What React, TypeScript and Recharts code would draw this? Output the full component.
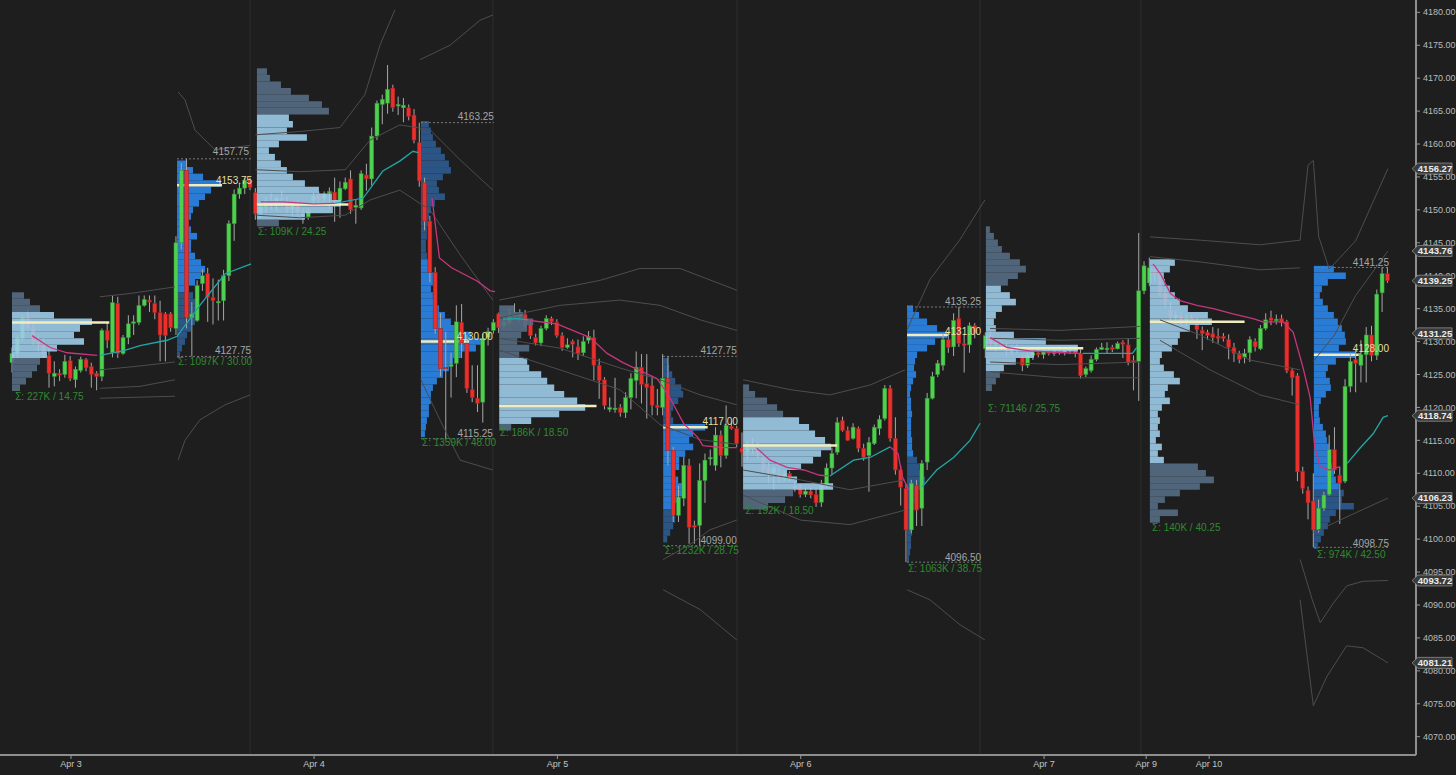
import React from 'react';
import { ComposedChart, Bar, Line, XAxis, YAxis, ReferenceArea, ReferenceLine, Scatter } from 'recharts';

// ---------- candles: [index, open, high, low, close] ----------
const apr3Candles: number[][] = [
  [0, 4126.8, 4129.1, 4125.3, 4128.2], [1, 4128.2, 4131, 4127.5, 4130.5], [2, 4130.5, 4134, 4130, 4133.5],
  [3, 4133.5, 4135, 4131.5, 4132], [4, 4132, 4133, 4129.5, 4130], [5, 4130, 4131, 4128.5, 4129.5],
  [6, 4129.5, 4130.5, 4127.5, 4128], [7, 4127.9, 4129.4, 4123, 4125.2], [8, 4124.7, 4127, 4123.2, 4125.2],
  [9, 4125.2, 4125.8, 4124, 4124.9], [10, 4125, 4128, 4124.5, 4127], [11, 4127.1, 4127.8, 4124, 4124.4],
  [12, 4124.2, 4126.2, 4123, 4125.8], [13, 4125.6, 4127.7, 4125.3, 4127.3], [14, 4127.3, 4127.5, 4125.5, 4126],
  [15, 4126.2, 4126.8, 4123, 4125], [16, 4125.2, 4125.5, 4122.6, 4124.7], [17, 4124.7, 4132, 4124, 4131.7],
  [18, 4131.7, 4133, 4129, 4130.2], [19, 4128.3, 4137, 4127.6, 4135.9], [20, 4135.8, 4136.8, 4127.5, 4128.2],
  [21, 4128.2, 4131, 4128, 4130.6], [22, 4130.6, 4134, 4129.6, 4132.7], [23, 4132.8, 4134, 4131, 4133],
  [24, 4132.9, 4137, 4132.5, 4135.5], [25, 4135.5, 4137, 4135.3, 4136.4], [26, 4136.3, 4137, 4134.5, 4136],
  [27, 4135.8, 4137, 4133.4, 4134.4], [28, 4134.4, 4136.2, 4127, 4131], [29, 4134.2, 4134.5, 4127, 4130.9],
  [30, 4134.2, 4134.5, 4131.5, 4132.1],
  [31, 4132, 4146, 4131, 4145], [32, 4145, 4157.1, 4144, 4156], [33, 4156, 4157.75, 4132, 4133.6],
  [34, 4133.6, 4136, 4127.75, 4134.2], [35, 4133.2, 4139.3, 4133, 4138.5], [36, 4138.8, 4141, 4137.7, 4140],
  [37, 4140.3, 4141.2, 4133, 4136.7], [38, 4136.7, 4139.6, 4132.6, 4136.2], [39, 4136, 4139.4, 4133.2, 4136.1],
  [40, 4136.2, 4140.9, 4133.2, 4140], [41, 4140, 4148.4, 4139.2, 4147.9], [42, 4147.9, 4153.1, 4145.3, 4152.4],
  [43, 4152.4, 4154.1, 4151.7, 4153.3], [44, 4153.3, 4154.9, 4152.4, 4154.5], [45, 4154.5, 4154.9, 4153, 4153.4],
];
const apr4Candles: number[][] = [
  [46, 4152.6, 4153.3, 4148.5, 4149.4], [47, 4149.4, 4151, 4148.8, 4150.5], [48, 4150.5, 4152, 4149.5, 4151.5],
  [49, 4151.5, 4152.5, 4150, 4150.6], [50, 4150.6, 4152, 4149.8, 4151.8], [51, 4151.8, 4153, 4150.5, 4151],
  [52, 4151, 4152, 4149.5, 4150], [53, 4150, 4151.2, 4148.8, 4150.8], [54, 4150.8, 4151.5, 4149.2, 4149.6],
  [55, 4149.6, 4150.2, 4147.9, 4149], [56, 4148.9, 4150.3, 4148.5, 4149.8], [57, 4151.4, 4152.6, 4150.9, 4152.1],
  [58, 4152.4, 4152.8, 4151, 4151.5], [59, 4151.7, 4152.8, 4151.3, 4152.4], [60, 4152.7, 4153.4, 4150.4, 4152.8],
  [61, 4152.7, 4154.9, 4148.2, 4151.4], [62, 4151.4, 4154.3, 4148.8, 4153.3], [63, 4153.2, 4154.9, 4153, 4154.2],
  [64, 4154.7, 4156, 4149.4, 4150], [65, 4150.4, 4151.6, 4147.9, 4150.7], [66, 4150.3, 4156, 4150, 4155.5],
  [67, 4155.3, 4157, 4152.9, 4154.7], [68, 4154.7, 4162.5, 4153.7, 4161.2], [69, 4161.2, 4166.6, 4160.6, 4166.2],
  [70, 4166, 4167.5, 4163, 4166.8], [71, 4166.2, 4172, 4164.6, 4168.3], [72, 4168.5, 4169, 4164.9, 4165.5],
  [73, 4165.8, 4167.2, 4164.4, 4166], [74, 4165.5, 4167, 4163.3, 4165.9], [75, 4165.5, 4166, 4163.6, 4164.2],
  [76, 4164.4, 4165.3, 4160.1, 4160.6],
  [77, 4160.2, 4163.25, 4153.5, 4154.4], [78, 4154.1, 4154.9, 4146.9, 4148.3], [79, 4148.3, 4149.1, 4139, 4140.5],
  [80, 4140.5, 4141.3, 4131.2, 4132], [81, 4132, 4134.3, 4124.7, 4125.9], [82, 4126.1, 4131.5, 4115.25, 4126],
  [83, 4126.2, 4128.3, 4121.5, 4126.5], [84, 4126.7, 4135.5, 4124.6, 4133], [85, 4132.9, 4135.7, 4127.5, 4129.8],
  [86, 4129.7, 4131, 4122.2, 4122.9], [87, 4122.7, 4126.4, 4120.8, 4121.5], [88, 4121.4, 4126.4, 4119.3, 4120.6],
  [89, 4120.8, 4131.2, 4117.7, 4130.5], [90, 4130.6, 4132.1, 4129.4, 4131.5], [91, 4131.7, 4133.4, 4131.2, 4132.9],
];
const apr5Candles: number[][] = [
  [92, 4134.2, 4134.4, 4131.3, 4132.1], [93, 4132.4, 4133.8, 4131.8, 4133], [94, 4132.9, 4135, 4132.5, 4134],
  [95, 4134, 4135.8, 4133.6, 4134.1], [96, 4133.8, 4134.9, 4133, 4134.3], [97, 4134.1, 4134.8, 4132, 4132.4],
  [98, 4132.6, 4133.2, 4130.4, 4130.9], [99, 4130.6, 4131.2, 4129.4, 4129.8], [100, 4129.8, 4132.4, 4129.3, 4132],
  [101, 4132, 4134, 4131.7, 4133.5], [102, 4133.5, 4133.8, 4132.5, 4133], [103, 4132.9, 4133.4, 4130.6, 4130.9],
  [104, 4130.9, 4131.4, 4128.6, 4129.1], [105, 4129.1, 4130.5, 4128.9, 4129.5], [106, 4130, 4130.3, 4127.6, 4129.6],
  [107, 4129.2, 4130.3, 4127.2, 4128.2], [108, 4128.3, 4130.8, 4127.8, 4130], [109, 4130.2, 4131.6, 4129.7, 4130.8],
  [110, 4130.6, 4131.8, 4124.1, 4126.4], [111, 4126.4, 4127.4, 4121.3, 4124.1], [112, 4124.2, 4124.6, 4119.7, 4120.3],
  [113, 4119.7, 4121.5, 4119.3, 4120], [114, 4119.8, 4124.5, 4119.2, 4119.9], [115, 4120, 4120.5, 4118.6, 4119.2],
  [116, 4119.2, 4122.3, 4118.4, 4121.5], [117, 4121.5, 4125.2, 4119.7, 4124.4], [118, 4124.1, 4128.5, 4121.4, 4126.1],
  [119, 4126.1, 4128.1, 4120.6, 4123.5], [120, 4123.6, 4128.1, 4118.3, 4123], [121, 4123.3, 4124.8, 4118.8, 4120.3],
  [122, 4120.3, 4122.8, 4118.8, 4120], [123, 4120, 4128.1, 4118.8, 4124.4],
  [124, 4124.4, 4127.75, 4111.2, 4113.5], [125, 4113.5, 4114, 4102.6, 4103.6], [126, 4103.6, 4108.1, 4102.6, 4106.4],
  [127, 4106.2, 4112.5, 4105, 4111.2], [128, 4111.2, 4112.2, 4099.3, 4101.8], [129, 4102.1, 4102.8, 4099.3, 4101.8],
  [130, 4102.1, 4111.5, 4099, 4108.9], [131, 4108.9, 4113, 4105.5, 4112], [132, 4112.2, 4113.6, 4111.2, 4112.4],
  [133, 4111.2, 4117, 4110.4, 4115.8], [134, 4115.8, 4116.5, 4110.9, 4112.7], [135, 4112.7, 4120.3, 4112.2, 4117.3],
  [136, 4117.1, 4117.8, 4116.6, 4116.8], [137, 4116.8, 4117.2, 4114, 4114.5],
];
const apr6Candles: number[][] = [
  [138, 4113.8, 4116.2, 4111, 4113.2], [139, 4113.2, 4115, 4112, 4114.5], [140, 4114.5, 4115.3, 4113, 4113.8],
  [141, 4113.8, 4114.8, 4112.2, 4113], [142, 4112.4, 4113, 4110, 4110.5], [143, 4110.8, 4111.6, 4108.5, 4110],
  [144, 4110, 4111.2, 4107.5, 4110.8], [145, 4110, 4110.8, 4108.6, 4109.2], [146, 4109.2, 4110.4, 4108.8, 4110],
  [147, 4110, 4110.3, 4108.8, 4109.2], [148, 4108.2, 4108.8, 4107.2, 4107.7], [149, 4107.7, 4108.3, 4106.3, 4106.8],
  [150, 4106.8, 4107.8, 4106.4, 4107.3], [151, 4107.3, 4107.8, 4106.2, 4106.7], [152, 4106.8, 4107.7, 4104.9, 4105.5],
  [153, 4105.6, 4109, 4104.9, 4108.2], [154, 4108.2, 4111.5, 4107.7, 4110.8], [155, 4110.8, 4113.9, 4109.8, 4113],
  [156, 4113.2, 4118.5, 4112.8, 4117.7], [157, 4118, 4118.6, 4116.3, 4116.5], [158, 4116.5, 4117.1, 4114.9, 4115],
  [159, 4115.3, 4117.6, 4115.1, 4117], [160, 4116.8, 4117.1, 4113.2, 4113.8], [161, 4113.8, 4114.5, 4111.9, 4112.4],
  [162, 4112.7, 4115.5, 4107.2, 4114.7], [163, 4114.5, 4117.4, 4114.3, 4117], [164, 4116.8, 4118.8, 4115.8, 4118.2],
  [165, 4118.3, 4123.4, 4118, 4122.9], [166, 4122.9, 4123.4, 4114.8, 4115.3], [167, 4115.3, 4118.5, 4109.8, 4110.5],
  [168, 4110.5, 4111.2, 4105.1, 4107.9],
  [169, 4107.7, 4108.4, 4096.5, 4101.4], [170, 4101.4, 4109, 4100.9, 4108.5], [171, 4108.2, 4109, 4102, 4104.4],
  [172, 4104.7, 4112, 4102, 4111.5], [173, 4111.7, 4122.2, 4110.5, 4121.4], [174, 4121.4, 4125.4, 4121.2, 4124.7],
  [175, 4125, 4127.2, 4124.6, 4126.7], [176, 4126.4, 4131.2, 4125.6, 4130.3], [177, 4130.3, 4131.4, 4128.3, 4129.1],
  [178, 4129.2, 4134.3, 4127.8, 4133.2], [179, 4133.5, 4135.25, 4129.2, 4129.7], [180, 4129.7, 4131.2, 4125.3, 4129.4],
  [181, 4129.5, 4132.9, 4128.3, 4132.4], [182, 4132.4, 4132.8, 4130.5, 4131.2],
];
const apr7Candles: number[][] = [
  [184, 4128.9, 4131.4, 4127.5, 4130.9], [185, 4130.9, 4131.5, 4129, 4129.5], [186, 4129.5, 4130.2, 4128.5, 4129.8],
  [187, 4129.8, 4130.3, 4128.8, 4129], [188, 4129, 4129.8, 4127.9, 4128.5], [189, 4128.5, 4129.5, 4128, 4129.2],
  [190, 4129.2, 4129.6, 4128.2, 4128.6], [191, 4127.6, 4128, 4125.5, 4126.4], [192, 4126.4, 4128.3, 4126, 4127.9],
  [193, 4127.9, 4128.6, 4127.2, 4128.3], [194, 4128.3, 4129, 4127.6, 4128], [195, 4128, 4128.9, 4127.4, 4128.6],
  [196, 4128.6, 4129.2, 4127.9, 4128.2], [197, 4128.2, 4129, 4127.8, 4128.7], [198, 4128.7, 4129.3, 4128, 4128.4],
  [199, 4128.4, 4129.2, 4127.9, 4128.6], [200, 4128.6, 4129.4, 4128.1, 4128.9], [201, 4128.9, 4129.4, 4127.6, 4128.2],
  [202, 4128.2, 4128.8, 4124.4, 4124.8], [203, 4125, 4126.2, 4124.6, 4125.9], [204, 4125.6, 4127.9, 4125.3, 4127.3],
  [205, 4127.3, 4129.1, 4127, 4128.8], [206, 4128.8, 4129.8, 4128.7, 4129.1], [207, 4128.9, 4129.9, 4128.2, 4129],
  [208, 4129.1, 4129.5, 4128.4, 4128.8], [209, 4128.9, 4130, 4128.8, 4129.7], [210, 4129.9, 4130.2, 4127.5, 4129.6],
  [211, 4129.5, 4130.4, 4126.4, 4126.8], [212, 4127.1, 4127.9, 4122.6, 4126.9], [213, 4127, 4146.5, 4121, 4137.7],
];
const apr9Candles: number[][] = [
  [214, 4137.7, 4142.2, 4137.2, 4141.5], [215, 4138.9, 4142.75, 4138.4, 4141.2], [216, 4141, 4141.7, 4139, 4140.2],
  [217, 4140.5, 4141, 4136.8, 4137.4], [218, 4137.4, 4137.8, 4135.2, 4136], [219, 4134.7, 4136, 4133, 4133.6],
  [220, 4133.6, 4134.6, 4132.5, 4134], [221, 4134, 4134.5, 4132.3, 4133], [222, 4133, 4134.2, 4132.4, 4133.5],
  [223, 4133.6, 4134.1, 4132.8, 4133.3], [224, 4133.3, 4133.6, 4130.4, 4131.8], [225, 4131.7, 4132.3, 4128.7, 4131.2],
  [226, 4131.4, 4131.8, 4130.3, 4130.9], [227, 4131.2, 4132.2, 4129.8, 4130.6], [228, 4130.8, 4132, 4129.7, 4130.5],
  [229, 4130.8, 4131.3, 4130, 4130.5], [230, 4130.3, 4131.1, 4127.3, 4129.1], [231, 4129.1, 4129.8, 4126.9, 4128.2],
  [232, 4128.2, 4128.6, 4126.7, 4127.3], [233, 4127.6, 4128.9, 4126.7, 4128.2], [234, 4128.3, 4130.8, 4126.9, 4130.3],
  [235, 4130, 4130.5, 4128.5, 4129.2], [236, 4128.9, 4132.5, 4128.7, 4132], [237, 4132, 4134.3, 4131.7, 4133.3],
  [238, 4133.6, 4134.7, 4132.5, 4133.2], [239, 4133.2, 4134.1, 4132.6, 4133.4], [240, 4133.5, 4134.1, 4132.3, 4132.9],
  [241, 4133, 4133.3, 4125.2, 4125.6], [242, 4125.6, 4126, 4121.8, 4124.5], [243, 4124.8, 4125.2, 4108.8, 4110.2],
  [244, 4110.3, 4111, 4106.9, 4107.7], [245, 4107.4, 4108, 4103, 4105.5],
  [246, 4105.8, 4110, 4098.75, 4101.4], [247, 4101.4, 4106, 4101, 4104.7], [248, 4104.7, 4107.2, 4104.3, 4106.7],
  [249, 4106.8, 4115.8, 4106.6, 4113.6], [250, 4113.6, 4117, 4109.9, 4110.5], [251, 4109.7, 4111, 4102.3, 4108.5],
  [252, 4108.8, 4124.3, 4108.5, 4123.2], [253, 4123.2, 4128.2, 4122.3, 4127], [254, 4127.3, 4128.8, 4122.3, 4126.7],
  [255, 4126.4, 4130.2, 4123.8, 4128], [256, 4128, 4132.2, 4123.8, 4131], [257, 4131, 4132.4, 4127, 4127.9],
  [258, 4127.9, 4137.9, 4127.2, 4137.2], [259, 4137.4, 4141.25, 4134.5, 4140.3], [260, 4140.3, 4141.25, 4138.9, 4139.25],
];

// ---------- volume profiles (volume per 1-point row, from top price downward) ----------
const apr3OnProfile = { start: 0, top: 4137, vaHi: 4134, vaLo: 4128, kind: 'on',
  vol: [12, 18, 28, 42, 80, 68, 62, 72, 45, 35, 28, 25, 20, 14, 8] };
const apr3RthProfile = { start: 31.2, top: 4157, vaHi: 4157, vaLo: 4138, kind: 'rth',
  vol: [10, 16, 26, 44, 34, 28, 22, 16, 14, 12, 14, 20, 14, 14, 18, 24, 28, 24, 18, 12, 16, 20, 22, 20, 18, 14, 10, 8, 5, 3] };
const apr4OnProfile = { start: 46.3, top: 4171, vaHi: 4164, vaLo: 4149, kind: 'on',
  vol: [10, 13, 24, 34, 52, 65, 72, 32, 36, 30, 50, 22, 12, 18, 24, 30, 36, 48, 62, 75, 84, 76, 48, 22] };
const apr4RthProfile = { start: 77.3, top: 4163, vaHi: 4142, vaLo: 4116, kind: 'rth',
  vol: [8, 10, 12, 15, 20, 24, 28, 30, 22, 16, 18, 24, 14, 10, 8, 7, 6, 6, 5, 5, 6,
    8, 10, 12, 12, 10, 12, 15, 18, 24, 30, 36, 50, 62, 55, 40, 32, 28, 22, 16, 12, 10, 10, 8, 8, 6, 5, 4] };
const apr5OnProfile = { start: 92.1, top: 4135, vaHi: 4127, vaLo: 4118, kind: 'on',
  vol: [15, 24, 34, 28, 22, 18, 30, 20, 28, 30, 42, 48, 55, 65, 78, 86, 60, 32, 12] };
const apr5RthProfile = { start: 123.1, top: 4127, vaHi: 4117, vaLo: 4105, kind: 'rth',
  vol: [5, 6, 9, 12, 18, 20, 15, 10, 8, 10, 42, 30, 26, 30, 22, 16, 16, 12, 15, 20, 20, 14, 12, 10, 12, 10, 7, 4] };
const apr6OnProfile = { start: 138.2, top: 4123, vaHi: 4118, vaLo: 4108, kind: 'on',
  vol: [6, 12, 24, 34, 40, 56, 66, 72, 82, 88, 78, 70, 58, 44, 54, 90, 50, 42, 25] };
const apr6RthProfile = { start: 169.2, top: 4135, vaHi: 4135, vaLo: 4113, kind: 'rth',
  vol: [6, 12, 20, 30, 40, 28, 20, 10, 8, 7, 9, 6, 4, 3, 4, 4, 5, 4, 4, 4, 5, 5, 6,
    10, 12, 14, 18, 15, 10, 8, 7, 6, 6, 5, 5, 4, 4, 3, 2] };
const apr7OnProfile = { start: 184.1, top: 4147, vaHi: 4138, vaLo: 4126, kind: 'on',
  vol: [4, 8, 12, 16, 24, 34, 40, 32, 22, 15, 24, 30, 16, 10, 8, 10, 28, 60, 92, 48, 30, 18, 14, 10, 6] };
const apr9OnProfile = { start: 215.1, top: 4142, vaHi: 4142, vaLo: 4112, kind: 'on',
  vol: [25, 20, 14, 15, 20, 25, 30, 38, 58, 62, 40, 30, 28, 22, 12, 10, 14, 24, 30, 18, 15, 20, 12, 8, 10, 8, 10, 6, 12, 8, 14,
    48, 56, 64, 50, 30, 15, 8, 28, 10] };
const apr9RthProfile = { start: 246.1, top: 4141, vaHi: 4141, vaLo: 4108, kind: 'rth',
  vol: [20, 32, 14, 8, 6, 9, 14, 20, 24, 28, 31, 32, 25, 42, 22, 14, 12, 16, 17, 12, 7, 5, 5, 6, 9, 12, 13, 15, 16, 17, 18, 20, 22, 25,
    30, 28, 40, 22, 16, 14, 10, 7, 4] };

const onProfiles = [apr3OnProfile, apr4OnProfile, apr5OnProfile, apr6OnProfile, apr7OnProfile, apr9OnProfile];
const rthProfiles = [apr3RthProfile, apr4RthProfile, apr5RthProfile, apr6RthProfile, apr9RthProfile];

// POC lines: [startIdx, endIdx, price]
const onPocLines: number[][] = [
  [0, 18.4, 4132.9], [46.3, 63.6, 4150.8], [92.1, 110.5, 4120.2], [138.2, 156, 4114.2], [184.1, 202.5, 4129], [215.1, 233, 4133],
];
const rthPocLines: number[][] = [
  [31.2, 39.7, 4153.75], [77.3, 86.4, 4130], [123.1, 131.5, 4117], [169.2, 177, 4131], [246.1, 255, 4128],
];
// RTH high / low boxes: [startIdx, endIdx, high, low]
const rthBoxes: number[][] = [
  [31.2, 45.2, 4157.75, 4127.75], [77.3, 91.1, 4163.25, 4115.25], [123.1, 137, 4127.75, 4099],
  [169.2, 183.2, 4135.25, 4096.5], [246.1, 260.3, 4141.25, 4098.75],
];

// ---------- VWAP style lines: [index, price] ----------
const pinkSegments: number[][][] = [
  [[3.8, 4130.9], [7.2, 4129.1], [10.4, 4128.3], [16.1, 4127.9]],
  [[47, 4151.2], [51.2, 4151.2], [56.9, 4150.9], [61, 4151]],
  [[79.4, 4151.8], [80.8, 4142.7], [83.1, 4141.2], [87.9, 4139.2], [90.4, 4137.7], [91.3, 4137.6]],
  [[97.9, 4133.2], [103, 4132.7], [109.3, 4130.6], [112.5, 4128.2], [115.5, 4126.8], [118.7, 4125.6], [121.9, 4124.4],
    [124, 4122], [127, 4117.5], [129.6, 4115.5], [130.6, 4114.2], [134.4, 4113.9], [137, 4113.9]],
  [[140.8, 4113.8], [143.3, 4112], [146.5, 4110.9], [149.7, 4110.5], [152.7, 4109.7], [154.3, 4109.6]],
  [[166, 4114], [167.5, 4113], [168.3, 4109.5], [169.5, 4107.5]],
  [[184.9, 4130.6], [188.1, 4129.1], [192.4, 4128.6], [198.7, 4128.3], [201.9, 4128.2]],
  [[215.7, 4141.8], [217.1, 4140.3], [219, 4137.3], [220.8, 4136.2], [224, 4135.5], [227.1, 4135], [230.8, 4134.2],
    [234.6, 4133.5], [236.5, 4133], [240.3, 4133], [242.2, 4131.4], [244.1, 4125.9], [245.4, 4121.5], [246.3, 4113.8],
    [247.3, 4111], [249.1, 4110.5], [251, 4111]],
];
const tealSegments: number[][][] = [
  [[16.6, 4127.9], [21, 4128.6], [24.2, 4129.4], [29.3, 4130.2], [31.2, 4130.8], [35.5, 4135.5], [40.3, 4140.3], [45.2, 4141.8]],
  [[61, 4151], [66.4, 4151.8], [70.1, 4155.9], [73.3, 4157.4], [75.8, 4158.9], [76.8, 4158.7]],
  [[92.8, 4133.4], [95.6, 4133.5], [97.6, 4133.3]],
  [[154.6, 4109.6], [159.1, 4112], [162.2, 4112.4], [166, 4114]],
  [[172, 4107.9], [174.8, 4110.5], [178, 4112.4], [181.1, 4115], [183, 4117.6]],
  [[202.4, 4128.2], [211.8, 4128.2], [212.6, 4129.1]],
  [[252.4, 4111.5], [254.8, 4113.8], [257.3, 4116], [259.2, 4118.5], [260.1, 4118.74]],
];
// ---------- deviation bands (grey) ----------
const bandSegments: number[][][] = [
  [[16.6, 4136.8], [22.3, 4137.3], [30.8, 4138.3]],
  [[16.6, 4125.7], [24.2, 4126.3], [30.8, 4126.9]],
  [[16.6, 4122.9], [24.2, 4123.2], [30.8, 4124.2]],
  [[16.6, 4121.4], [30.8, 4121.7]],
  [[31.4, 4167.9], [32.7, 4166.7], [34.6, 4162.1], [38.4, 4159.1], [45, 4159.8]],
  [[31.4, 4112], [32.7, 4115], [35.5, 4118.1], [40.3, 4120.4], [45, 4121.9]],
  [[46, 4161.4], [54.4, 4161.9], [62, 4162.5], [66.7, 4167.5], [69.6, 4175.1], [72.4, 4180.4]],
  [[46, 4156.1], [54.4, 4155.8], [63, 4156.1], [67.7, 4160.6], [73.3, 4162.9], [79, 4162.2], [84.7, 4157.6], [90.9, 4153]],
  [[46, 4149.2], [54.4, 4148.8], [63, 4149.2], [67.7, 4151.5], [73.3, 4153], [79, 4150], [84.7, 4143.2], [90.9, 4136.3]],
  [[77.1, 4172.8], [82.8, 4175], [88.5, 4178.8], [90.9, 4179.6]],
  [[77.3, 4124.2], [80.9, 4118.1], [84.7, 4112], [90.9, 4110.5]],
  [[92.1, 4136.3], [99.8, 4137.5], [111.2, 4139.3], [118.7, 4141.1], [126.3, 4141.1], [137, 4137.8]],
  [[92.1, 4133.6], [103.6, 4135.5], [114.9, 4136.3], [122.5, 4135.5], [130.1, 4133.3], [137, 4131.7]],
  [[92.1, 4130.5], [103.6, 4129], [114.9, 4126], [122.5, 4124.2], [130.1, 4121.9], [137, 4120.4]],
  [[92.1, 4128.7], [103.6, 4125.7], [114.9, 4122.7], [122.5, 4117.4], [130.1, 4115.1], [137, 4114.4]],
  [[123.1, 4096.9], [128.2, 4099.2], [131.9, 4101.4], [137, 4102.9]],
  [[123.1, 4092.3], [130.1, 4089.3], [137, 4084.7]],
  [[138.2, 4124.2], [147.1, 4122.7], [154.6, 4121.9], [162.2, 4123.4], [168.8, 4125.7]],
  [[138.2, 4110.5], [149, 4109], [158.4, 4107.5], [168.8, 4109]],
  [[138.2, 4106.7], [149, 4102.9], [158.4, 4102.2], [168.8, 4104.4]],
  [[169.2, 4131.8], [173.5, 4139.4], [179.2, 4145.5], [183.9, 4151.5]],
  [[169.2, 4092.3], [173.5, 4090.8], [179.2, 4087], [183.9, 4084.7]],
  [[184.9, 4132], [198.1, 4131.7], [213.2, 4132.3]],
  [[184.9, 4130.5], [198.1, 4130.2], [213.2, 4130.5]],
  [[184.9, 4126.9], [198.1, 4126.5], [213.2, 4126.9]],
  [[184.9, 4125.4], [198.1, 4124.5], [213.2, 4124.5]],
  [[215.1, 4145.9], [224.6, 4145.4], [235.9, 4144.7], [243.5, 4145.4]],
  [[215.1, 4142.9], [224.6, 4142.1], [235.9, 4140.9], [243.5, 4141.2]],
  [[217, 4133.3], [224.6, 4131], [234, 4127.2], [243.5, 4125.7]],
  [[217, 4130.2], [226.5, 4125.7], [235.9, 4121.9], [243.5, 4120.4]],
  [[243.5, 4145.4], [245, 4156.8], [246, 4157.5], [247, 4146], [249, 4141], [254, 4145.3], [260.1, 4156.27]],
  [[246, 4127], [250, 4131], [254, 4137], [260.1, 4143.76]],
  [[246, 4101], [250, 4102.5], [254, 4104], [260.1, 4106.23]],
  [[243.5, 4096.9], [245.8, 4090.8], [247.3, 4087.3], [249.7, 4090.2], [252.3, 4092.9], [255.4, 4093.6], [260.1, 4093.72]],
  [[243.5, 4090.8], [246, 4074.7], [248.6, 4079.2], [252.3, 4083.8], [255.4, 4083.5], [260.1, 4081.21]],
];

// ---------- axes / annotations ----------
const yTicks = [4070, 4075, 4080, 4085, 4090, 4095, 4100, 4105, 4110, 4115, 4120, 4125, 4130, 4135, 4140, 4145, 4150, 4155, 4160, 4165, 4170, 4175, 4180];
const badgeValues = [4156.27, 4143.76, 4139.25, 4131.25, 4118.74, 4106.23, 4093.72, 4081.21];
const xTickPos = [11.15, 57.1, 103.1, 149.1, 195.1, 214.4, 226.3];
const xTickLabels = ['Apr 3', 'Apr 4', 'Apr 5', 'Apr 6', 'Apr 7', 'Apr 9', 'Apr 10'];
const sessionSeparators = [45, 90.9, 137.05, 183, 213.4];

const sumLabels = [
  { x: 0.6, y: 4121.7, t: 'Σ: 227K / 14.75' }, { x: 31.4, y: 4126.9, t: 'Σ: 1097K / 30.00' },
  { x: 46.5, y: 4146.7, t: 'Σ: 109K / 24.25' }, { x: 77.5, y: 4114.6, t: 'Σ: 1359K / 48.00' },
  { x: 92.2, y: 4116.2, t: 'Σ: 186K / 18.50' }, { x: 123.4, y: 4098.2, t: 'Σ: 1232K / 28.75' },
  { x: 138.6, y: 4104.4, t: 'Σ: 192K / 18.50' }, { x: 169.4, y: 4095.6, t: 'Σ: 1063K / 38.75' },
  { x: 184.5, y: 4119.9, t: 'Σ: 71146 / 25.75' }, { x: 215.5, y: 4101.7, t: 'Σ: 140K / 40.25' },
  { x: 246.7, y: 4097.6, t: 'Σ: 974K / 42.50' },
];
const priceLabels = [
  { x: 44.8, y: 4158.8, t: '4157.75', poc: 0 }, { x: 45.2, y: 4128.7, t: '4127.75', poc: 0 }, { x: 45.4, y: 4154.5, t: '4153.75', poc: 1 },
  { x: 91.1, y: 4164.2, t: '4163.25', poc: 0 }, { x: 90.9, y: 4116, t: '4115.25', poc: 0 }, { x: 90.9, y: 4130.8, t: '4130.00', poc: 1 },
  { x: 137, y: 4128.7, t: '4127.75', poc: 0 }, { x: 137.2, y: 4117.8, t: '4117.00', poc: 1 }, { x: 137, y: 4099.8, t: '4099.00', poc: 0 },
  { x: 183.2, y: 4136.1, t: '4135.25', poc: 0 }, { x: 183.2, y: 4131.6, t: '4131.00', poc: 1 }, { x: 183.2, y: 4097.2, t: '4096.50', poc: 0 },
  { x: 260.3, y: 4142, t: '4141.25', poc: 0 }, { x: 260.3, y: 4129, t: '4128.00', poc: 1 }, { x: 260.3, y: 4099.4, t: '4098.75', poc: 0 },
];

const X_DOMAIN: [number, number] = [-2.268, 265.406];
const Y_DOMAIN: [number, number] = [4067.22, 4181.87];
const PX_PER_BAR = 5.29;
const FONT = '"Liberation Sans Narrow", "Liberation Sans", Arial, sans-serif';

const candleData = [...apr3Candles, ...apr4Candles, ...apr5Candles, ...apr6Candles, ...apr7Candles, ...apr9Candles]
  .map(([x, o, h, l, c]) => ({ x, o, h, l, c, range: [l, h] }));

const CandleShape = (props: any) => {
  const { x, y, width, height, payload } = props;
  if (payload == null || x == null) return null;
  const { o, h, l, c } = payload;
  const top = Math.min(y, y + height);
  const hh = Math.abs(height);
  const cx = x + width / 2;
  const span = h - l || 1;
  const py = (v: number) => top + ((h - v) / span) * hh;
  const up = c >= o;
  const bTop = py(Math.max(o, c));
  const bBot = py(Math.min(o, c));
  return (
    <g>
      <line x1={cx} x2={cx} y1={top} y2={top + hh} stroke="#a8a8a8" strokeWidth={1} />
      <rect x={cx - 2} y={bTop} width={4} height={Math.max(1.5, bBot - bTop)}
        fill={up ? '#4fd04f' : '#e8302c'} stroke={up ? '#2f8f2f' : '#a01c1c'} strokeWidth={0.5} />
    </g>
  );
};

const TextShape = (props: any) => {
  const { cx, cy, payload } = props;
  if (cx == null) return null;
  return (
    <text x={cx} y={cy} dy="0.35em" fontSize={10} fontFamily={FONT}
      fill={payload.color} textAnchor={payload.anchor}>{payload.t}</text>
  );
};

// y-axis tick: regular price label, or a value badge for the last values of the study lines
const PriceTick = (props: any) => {
  const { x, y, payload } = props;
  if (x == null || payload == null) return null;
  const v = Number(payload.value);
  const axisX = x - 7;
  if (badgeValues.includes(v)) {
    const x0 = axisX - 4;
    return (
      <g>
        <polygon points={`${x0},${y} ${x0 + 6},${y - 5.5} ${x0 + 40},${y - 5.5} ${x0 + 40},${y + 5.5} ${x0 + 6},${y + 5.5}`}
          fill="#3a3a3a" stroke="#8c8c8c" strokeWidth={0.8} />
        <text x={x0 + 23} y={y} dy="0.35em" fontSize={9.5} fontWeight="bold" fontFamily={FONT} fill="#ececec" textAnchor="middle">
          {v.toFixed(2)}
        </text>
      </g>
    );
  }
  return (
    <g>
      <line x1={axisX} x2={axisX + 4} y1={y} y2={y} stroke="#9a9a9a" strokeWidth={1} />
      <text x={x} y={y} dy="0.35em" fontSize={9} fontFamily={FONT} fill="#bcbcbc" textAnchor="start">{v.toFixed(2)}</text>
    </g>
  );
};

function profileAreas(p: any, key: string, z: number) {
  const isOn = p.kind === 'on';
  const va = isOn ? '#9dcbe9' : '#2a7bd4';
  const out = isOn ? '#566d84' : '#2b5584';
  return p.vol.map((v: number, i: number) => {
    const price = p.top - i;
    const inVa = price <= p.vaHi && price >= p.vaLo;
    return (
      <ReferenceArea key={`${key}-${i}`} x1={p.start} x2={p.start + v / PX_PER_BAR} y1={price - 0.5} y2={price + 0.5}
        fill={inVa ? va : out} fillOpacity={isOn ? 0.9 : 1} stroke="none" ifOverflow="visible" zIndex={z} />
    );
  });
}

const seg = (pts: number[][]) => pts.map(([x, v]) => ({ x, v }));

export default function App() {
  const sumData = sumLabels.map((d) => ({ ...d, color: '#2f8a2f', anchor: 'start' }));
  const priceData = priceLabels.map((d) => ({ ...d, color: d.poc ? '#e6dfa6' : '#a6a6a6', anchor: 'end' }));
  const allYTicks = [...yTicks, ...badgeValues];
  return (
    <div style={{ position: 'absolute', left: 0, top: 0, width: 1456, height: 775, background: '#1e1e1e', overflow: 'hidden' }}>
      <ComposedChart width={1456} height={775} data={candleData} margin={{ top: 0, right: 0, bottom: 0, left: 0 }}>
        <XAxis dataKey="x" type="number" domain={X_DOMAIN} allowDataOverflow ticks={xTickPos} interval={0}
          tickFormatter={(v: number, i: number) => xTickLabels[i]} height={20}
          axisLine={{ stroke: '#8e8e8e', strokeWidth: 2 }} tickLine={{ stroke: '#9a9a9a' }} tickSize={4}
          tick={{ fill: '#c4c4c4', fontSize: 9, fontFamily: FONT }} />
        <YAxis orientation="right" type="number" domain={Y_DOMAIN} allowDataOverflow ticks={allYTicks} interval={0}
          width={40} tickSize={4} tickMargin={3} tickLine={false}
          axisLine={{ stroke: '#8e8e8e', strokeWidth: 2 }} tick={<PriceTick />} />
        {sessionSeparators.map((s, i) => (
          <ReferenceLine key={`sep${i}`} x={s} stroke="#2e2e2e" strokeWidth={1} zIndex={-50} />
        ))}
        {rthProfiles.map((p, i) => profileAreas(p, `rth${i}`, 100))}
        {rthBoxes.map((b, i) => (
          <ReferenceLine key={`bh${i}`} segment={[{ x: b[0], y: b[2] }, { x: b[1], y: b[2] }]} stroke="#7a7a7a" strokeDasharray="2 2" zIndex={120} />
        ))}
        {rthBoxes.map((b, i) => (
          <ReferenceLine key={`bl${i}`} segment={[{ x: b[0], y: b[3] }, { x: b[1], y: b[3] }]} stroke="#7a7a7a" strokeDasharray="2 2" zIndex={120} />
        ))}
        {rthPocLines.map((p, i) => (
          <ReferenceLine key={`pr${i}`} segment={[{ x: p[0], y: p[2] }, { x: p[1], y: p[2] }]} stroke="#f1ecbd" strokeWidth={2.5} zIndex={130} />
        ))}
        <Bar dataKey="range" barSize={4} shape={CandleShape} isAnimationActive={false} zIndex={300} />
        {onProfiles.map((p, i) => profileAreas(p, `on${i}`, 350))}
        {onPocLines.map((p, i) => (
          <ReferenceLine key={`po${i}`} segment={[{ x: p[0], y: p[2] }, { x: p[1], y: p[2] }]} stroke="#f1ecbd" strokeWidth={2.5} zIndex={360} />
        ))}
        {bandSegments.map((s, i) => (
          <Line key={`band${i}`} data={seg(s)} dataKey="v" stroke="#4d4d4d" strokeWidth={1} dot={false} activeDot={false}
            isAnimationActive={false} zIndex={400} />
        ))}
        {pinkSegments.map((s, i) => (
          <Line key={`pink${i}`} data={seg(s)} dataKey="v" stroke="#c8357e" strokeWidth={1.3} dot={false} activeDot={false}
            isAnimationActive={false} zIndex={410} />
        ))}
        {tealSegments.map((s, i) => (
          <Line key={`teal${i}`} data={seg(s)} dataKey="v" stroke="#22a7a7" strokeWidth={1.3} dot={false} activeDot={false}
            isAnimationActive={false} zIndex={410} />
        ))}
        <Scatter data={sumData} dataKey="y" shape={TextShape} isAnimationActive={false} zIndex={600} />
        <Scatter data={priceData} dataKey="y" shape={TextShape} isAnimationActive={false} zIndex={600} />
      </ComposedChart>
    </div>
  );
}
